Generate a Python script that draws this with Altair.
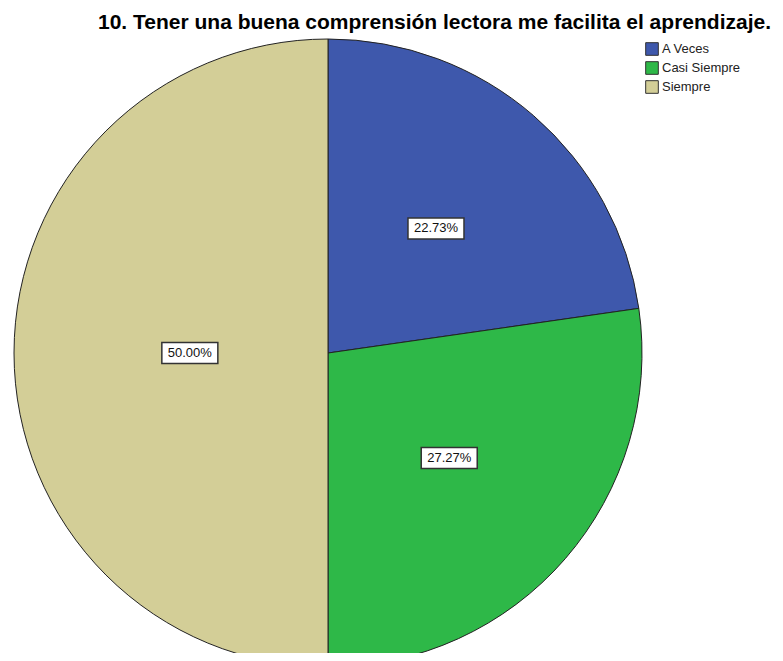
import altair as alt
import pandas as pd

categories = ["A Veces", "Casi Siempre", "Siempre"]
values = [22.73, 27.27, 50.00]
labels = ["22.73%", "27.27%", "50.00%"]
colors = ["#3E58AC", "#2EB848", "#D3CE97"]

df = pd.DataFrame({"category": categories, "value": values, "label": labels,
                   "idx": list(range(len(categories)))})

W, H = 767, 612
PAD_TOP = 33
CX, CY, R = 320, 312, 314
BW, BH = 56, 21

base = alt.Chart(df)

pie = base.mark_arc(radius=R, stroke="#222222", strokeWidth=1).encode(
    theta=alt.Theta("value:Q", stack=True),
    order=alt.Order("idx:Q"),
    color=alt.Color("category:N",
                    scale=alt.Scale(domain=categories, range=colors),
                    sort=categories,
                    legend=alt.Legend(title=None, orient="none", legendX=637, legendY=1,
                                      symbolType="square", symbolSize=160,
                                      symbolStrokeColor="#333333", symbolStrokeWidth=1,
                                      labelFont="Liberation Sans", labelFontSize=13,
                                      labelColor="#222222", rowPadding=1, labelOffset=3,
                                      padding=0)),
    x=alt.value(CX), y=alt.value(CY),
)

# label placement: nearer the centre for larger slices (like the source software)
pos = base.transform_window(
    cum="sum(value)", sort=[alt.SortField("idx")], frame=[None, 0]
).transform_joinaggregate(
    total="sum(value)"
).transform_calculate(
    ang="(datum.cum - datum.value/2) / datum.total * 2 * PI",
    lr=f"{R} * (0.596 - 0.312 * datum.value / datum.total)",
).transform_calculate(
    lx=f"{CX} + datum.lr * sin(datum.ang)",
    ly=f"{CY} - datum.lr * cos(datum.ang)",
).transform_calculate(
    bx1=f"datum.lx - {BW/2}", bx2=f"datum.lx + {BW/2}",
    by1=f"datum.ly - {BH/2}", by2=f"datum.ly + {BH/2}",
)

boxes = pos.mark_rect(fill="white", stroke="#333333", strokeWidth=1.5).encode(
    x=alt.X("bx1:Q", scale=None), x2="bx2:Q",
    y=alt.Y("by1:Q", scale=None), y2="by2:Q",
)

texts = pos.mark_text(font="Liberation Sans", fontSize=13, color="#111111",
                      baseline="middle", align="center").encode(
    x=alt.X("lx:Q", scale=None), y=alt.Y("ly:Q", scale=None), text="label:N",
)

chart = alt.layer(pie, boxes, texts).properties(
    width=W, height=H,
    title=alt.TitleParams("10. Tener una buena comprensión lectora me facilita el aprendizaje.",
                          font="Liberation Sans", fontSize=21, fontWeight="bold",
                          color="#000000", anchor="end", dx=-4, dy=4, offset=8),
    autosize=alt.AutoSizeParams(type="none"),
    padding={"top": PAD_TOP, "left": 0, "right": 0, "bottom": 0},
).configure_view(stroke=None)

chart.save("out.html", embed_options={"renderer": "svg", "actions": False})
